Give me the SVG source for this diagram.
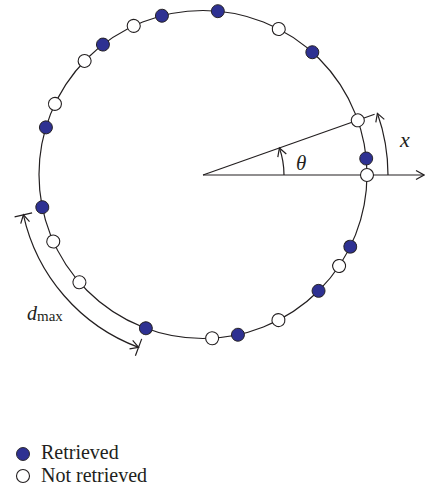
<svg xmlns="http://www.w3.org/2000/svg" xmlns:xlink="http://www.w3.org/1999/xlink" width="425" height="490" viewBox="0 0 425 490">
<style>
.ln{fill:none;stroke:#231f20;stroke-width:1.2}
.fd{fill:#2e3192;stroke:#231f20;stroke-width:0.9}
.od{fill:#fff;stroke:#231f20;stroke-width:1.1}
.it{font-family:"Liberation Serif",serif;font-style:italic;fill:#231f20}
.tx{font-family:"Liberation Serif",serif;fill:#231f20}
</style>
<defs>
<marker id="ah" markerUnits="userSpaceOnUse" markerWidth="14" markerHeight="14" refX="0" refY="0" viewBox="-10 -7 12 14" orient="auto-start-reverse">
<path d="M-8,-4.5 L0,0 L-8,4.5" fill="none" stroke="#231f20" stroke-width="1.2"/>
</marker>
<circle id="f" cx="367" cy="174.5" r="6.5" class="fd"/>
<circle id="o" cx="367" cy="174.5" r="6.5" class="od"/>
</defs>
<g id="circle">
<circle cx="203" cy="174.5" r="164" class="ln"/>
</g>
<g id="connectors">
<path class="ln" d="M203,175 H424" marker-end="url(#ah)"/>
<path class="ln" d="M203,175 L374.6,114.2"/>
<path class="ln" d="M284,175 A81,81 0 0 0 279.4,148" marker-end="url(#ah)"/>
<path class="ln" d="M388,175 A185,185 0 0 0 377.4,113.3" marker-end="url(#ah)"/>
<path class="ln" d="M23.4,214.8 A184,184 0 0 0 138.6,347.4" marker-start="url(#ah)" marker-end="url(#ah)"/>
<path class="ln" d="M32.1,212.9 L14.6,216.8 M141.7,338.9 L135.4,355.8"/>
</g>
<g id="retrieved">
<use xlink:href="#f" transform="rotate(-84.8 203 174.5)"/>
<use xlink:href="#f" transform="rotate(-104.5 203 174.5)"/>
<use xlink:href="#f" transform="rotate(-127.6 203 174.5)"/>
<use xlink:href="#f" transform="rotate(-163.3 203 174.5)"/>
<use xlink:href="#f" transform="rotate(168.5 203 174.5)"/>
<use xlink:href="#f" transform="rotate(110.4 203 174.5)"/>
<use xlink:href="#f" transform="rotate(77.7 203 174.5)"/>
<use xlink:href="#f" transform="rotate(45.2 203 174.5)"/>
<use xlink:href="#f" transform="rotate(26.1 203 174.5)"/>
<use xlink:href="#f" transform="rotate(-5.6 203 174.5)"/>
<use xlink:href="#f" transform="rotate(-48.2 203 174.5)"/>
</g>
<g id="not-retrieved">
<use xlink:href="#o" transform="rotate(-115 203 174.5)"/>
<use xlink:href="#o" transform="rotate(-136.2 203 174.5)"/>
<use xlink:href="#o" transform="rotate(-154.5 203 174.5)"/>
<use xlink:href="#o" transform="rotate(155.9 203 174.5)"/>
<use xlink:href="#o" transform="rotate(138.9 203 174.5)"/>
<use xlink:href="#o" transform="rotate(86.8 203 174.5)"/>
<use xlink:href="#o" transform="rotate(62.6 203 174.5)"/>
<use xlink:href="#o" transform="rotate(33.9 203 174.5)"/>
<use xlink:href="#o" transform="rotate(-19.3 203 174.5)"/>
<use xlink:href="#o" transform="rotate(0.2 203 174.5)"/>
<use xlink:href="#o" transform="rotate(-62.5 203 174.5)"/>
</g>
<g id="labels">
<text class="it" x="296" y="170" font-size="21">θ</text>
<text class="it" x="400" y="147" font-size="22">x</text>
<text x="27" y="320"><tspan class="it" font-size="20">d</tspan><tspan class="tx" font-size="15" dy="1">max</tspan></text>
</g>
<g id="legend">
<circle cx="23" cy="454" r="6.5" class="fd"/>
<text class="tx" x="41" y="459" font-size="20">Retrieved</text>
<circle cx="23" cy="476" r="6.5" class="od"/>
<text class="tx" x="41" y="482" font-size="20">Not retrieved</text>
</g>
</svg>
